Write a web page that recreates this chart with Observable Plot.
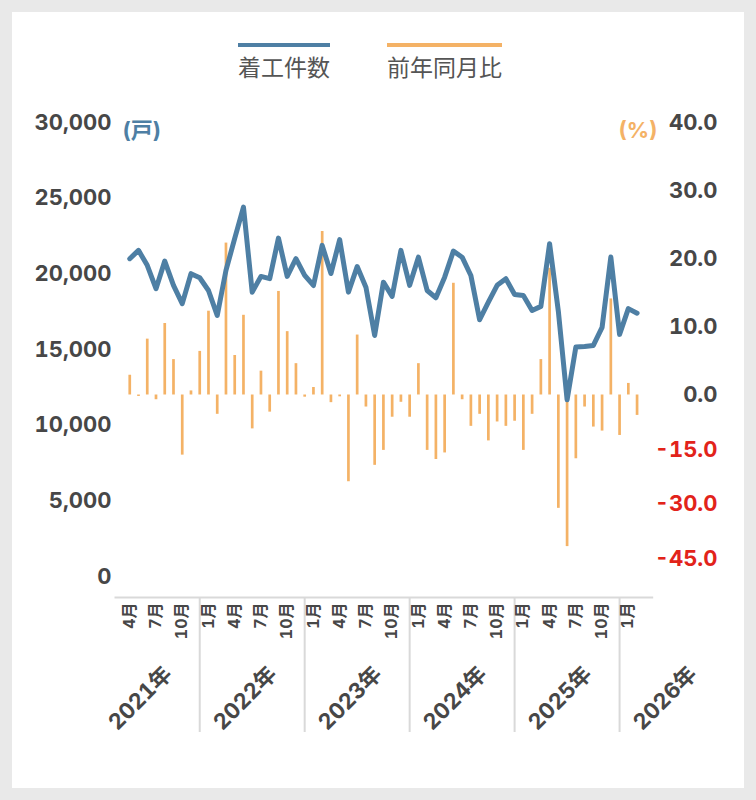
<!DOCTYPE html>
<html>
<head>
<meta charset="utf-8">
<script src="https://cdn.jsdelivr.net/npm/d3@7"></script>
<script src="https://cdn.jsdelivr.net/npm/@observablehq/plot@0.6"></script>
<style>
  html, body { margin: 0; padding: 0; background: #e9e9e9; }
  #page { position: relative; width: 756px; height: 800px; overflow: hidden; }
  #card { position: absolute; left: 12px; top: 12px; width: 732px; height: 776px; background: #ffffff; }
  .layer { position: absolute; left: 0; top: 0; }
  .item { position: absolute; top: 43px; font-family: "Noto Sans CJK JP", sans-serif; font-size: 23px; line-height: 23px; color: #555555; }
  .item .sw { height: 4px; margin-bottom: 8px; }
</style>
</head>
<body>
<div id="page">
  <div id="card"></div>
  <div id="layerBars" class="layer"></div>
  <div id="layerLine" class="layer"></div>
  <div class="item" style="left:238px"><div class="sw" style="background:#4e7fa4"></div><span>着工件数</span></div>
  <div class="item" style="left:387px"><div class="sw" style="background:#f4b266"></div><span>前年同月比</span></div>
</div>
<script>
// ---- data ----
const months = [
  "2021-04","2021-05","2021-06","2021-07","2021-08","2021-09","2021-10","2021-11","2021-12",
  "2022-01","2022-02","2022-03","2022-04","2022-05","2022-06","2022-07","2022-08","2022-09","2022-10","2022-11","2022-12",
  "2023-01","2023-02","2023-03","2023-04","2023-05","2023-06","2023-07","2023-08","2023-09","2023-10","2023-11","2023-12",
  "2024-01","2024-02","2024-03","2024-04","2024-05","2024-06","2024-07","2024-08","2024-09","2024-10","2024-11","2024-12",
  "2025-01","2025-02","2025-03","2025-04","2025-05","2025-06","2025-07","2025-08","2025-09","2025-10","2025-11","2025-12",
  "2026-01","2026-02"
];
// 着工件数 (戸)
const starts = [
  21000, 21550, 20560, 19020, 20840, 19240, 18030, 20010, 19740,
  18900, 17250, 20230, 22340, 24410, 18790, 19830, 19680, 22360, 19830, 21000, 19900,
  19230, 21880, 20020, 22260, 18790, 20480, 19120, 15930, 19450, 18510, 21550, 19240,
  21100, 18900, 18420, 19780, 21500, 21100, 19890, 16970, 18130, 19240, 19680, 18640,
  18570, 17580, 17850, 21990, 17520, 11680, 15160, 15200, 15270, 16460, 21110, 16000,
  17700, 17400
];
// 前年同月比 (%)
const yoy = [
  2.9, -0.4, 8.2, -1.3, 10.5, 5.2, -16.5, 0.6, 6.4,
  12.3, -5.3, 22.3, 5.8, 11.7, -9.3, 3.5, -4.7, 15.2, 9.3, 4.6, -0.6,
  1.1, 24.0, -2.1, -0.5, -23.8, 8.8, -3.3, -19.3, -15.2, -6.1, -2.0, -6.1,
  4.6, -15.2, -17.7, -15.9, 16.4, -1.3, -8.6, -5.3, -12.6, -7.4, -8.6, -7.2,
  -15.2, -5.3, 5.2, 18.6, -31.1, -41.6, -17.5, -3.3, -8.8, -9.9, 14.1, -11.1,
  1.7, -5.6
];
const years = [2021, 2022, 2023, 2024, 2025, 2026];
const leftTicks = [0, 5000, 10000, 15000, 20000, 25000, 30000];
const rightPosTicks = [0, 10, 20, 30, 40];
const rightNegTicks = [-15, -30, -45];
const labelMonths = [1, 4, 7, 10];

// ---- table ----
const table = months.map((m, i) => ({i, month: m, starts: starts[i], yoy: yoy[i]}));
const janIndex = y => (y - 2021) * 12 - 3; // index of January of year y (relative to 2021-04)

const monthTicks = table.filter(d => labelMonths.includes(+d.month.slice(5))).map(d => d.i);
const monthLabel = new Map(table.map(d => [d.i, (+d.month.slice(5)) + "月"]));
const sepTicks = years.slice(1).map(y => janIndex(y) - 1.0);
const yearTicks = years.map(y => janIndex(y) + 7.4);
const yearLabel = new Map(years.map(y => [janIndex(y) + 7.4, y + "年"]));

const BLUE = "#4e7fa4", ORANGE = "#f4b266", RED = "#e2231a", GREY = "#474747", RULE = "#d9d9d9";
const FONT = "Inter, 'Noto Sans CJK JP', sans-serif";
const W = 756, H = 800;
const dims = {width: W, height: H, marginLeft: 115, marginRight: 104.3, marginTop: 122, marginBottom: 203};
const xs = () => ({type: "linear", domain: [-1.63, 59.73], range: [115, 651.7], label: null});
const st = {background: "transparent", fontFamily: FONT, overflow: "visible"};

// ---- bars + right axis ----
const bars = Plot.plot({
  ...dims,
  style: st,
  x: {...xs(), axis: null},
  y: {type: "linear", domain: [-45, 0, 40], range: [558.5, 394.5, 122], label: null},
  marks: [
    Plot.ruleX(table, {x: "i", y1: 0, y2: "yoy", stroke: ORANGE, strokeWidth: 2.7}),
    Plot.axisY(rightPosTicks, {anchor: "right", tickSize: 0, tickPadding: 65.3, textAnchor: "end",
      tickFormat: d => d.toFixed(1), fontSize: 22, fontWeight: "bold", fill: GREY, label: null}),
    Plot.axisY(rightNegTicks, {anchor: "right", tickSize: 0, tickPadding: 65.3, textAnchor: "end",
      tickFormat: d => d.toFixed(1), fontSize: 22, fontWeight: "bold", fill: RED, label: null}),
    Plot.text(["(%)"], {frameAnchor: "top-right", text: d => d, textAnchor: "end", dx: 5.3,
      fill: ORANGE, fontSize: 22, fontWeight: "bold"})
  ]
});
document.getElementById("layerBars").append(bars);

// ---- line + left axis + x axis ----
const line = Plot.plot({
  ...dims,
  style: st,
  x: xs(),
  y: {type: "linear", domain: [0, 30000], range: [576, 122], label: null},
  marks: [
    Plot.frame({anchor: "bottom", stroke: RULE, strokeWidth: 2}),
    Plot.axisX(sepTicks, {tickSize: 135, tickFormat: () => "", stroke: RULE, strokeWidth: 2, label: null}),
    Plot.axisX(monthTicks, {tickSize: 0, tickPadding: 5, tickRotate: -90, textAnchor: "end", lineAnchor: "middle",
      tickFormat: d => monthLabel.get(d), fontSize: 16, fontWeight: "bold", fill: GREY, label: null}),
    Plot.axisX(yearTicks, {tickSize: 0, tickPadding: 73, tickRotate: -45, textAnchor: "end", lineAnchor: "middle",
      tickFormat: d => yearLabel.get(d), fontSize: 22, fontWeight: "bold", fill: GREY, label: null}),
    Plot.axisY(leftTicks, {anchor: "left", tickSize: 0, tickPadding: 4, tickFormat: d3.format(","),
      fontSize: 22, fontWeight: "bold", fill: GREY, label: null}),
    Plot.text(["(戸)"], {frameAnchor: "top-left", text: d => d, textAnchor: "start", dx: 7,
      fill: BLUE, fontSize: 22, fontWeight: "bold"}),
    Plot.line(table, {x: "i", y: "starts", stroke: BLUE, strokeWidth: 5,
      strokeLinejoin: "round", strokeLinecap: "round"})
  ]
});
document.getElementById("layerLine").append(line);
</script>
</body>
</html>
